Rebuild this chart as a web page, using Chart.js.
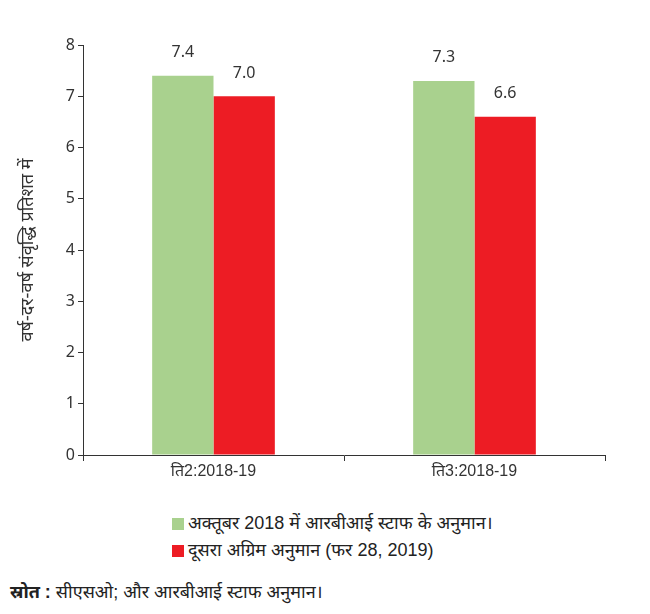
<!DOCTYPE html>
<html>
<head>
<meta charset="utf-8">
<script src="https://cdn.jsdelivr.net/npm/chart.js@4/dist/chart.umd.min.js"></script>
<style>
  body { margin: 0; background: #fff; font-family: "Liberation Sans", "Noto Sans", sans-serif; color: #222; }
  .wrap { position: relative; width: 650px; height: 614px; }
  #myChart { position: absolute; left: 0; top: 0; }
  .legend { position: absolute; left: 172px; top: 510px; font-size: 18px; line-height: 27px; }
  .legend span.box { display: inline-block; width: 12px; height: 12px; margin-right: 4px; vertical-align: -1px; }
  .source { position: absolute; left: 10px; top: 579px; font-size: 18px; color: #222; }
</style>
</head>
<body>
<div class="wrap">
  <canvas id="myChart" width="650" height="490"></canvas>
  <div class="legend" id="legend"></div>
  <div class="source"><b>स्रोत :</b> सीएसओ; और आरबीआई स्टाफ अनुमान।</div>
</div>
<script>
let categories = ['ति2:2018-19', 'ति3:2018-19'];
let staffEstimate = [7.4, 7.3];
let advanceEstimate = [7.0, 6.6];
let seriesNames = ['अक्तूबर 2018 में आरबीआई स्टाफ के अनुमान।', 'दूसरा अग्रिम अनुमान (फर 28, 2019)'];
let yTicks = [0, 1, 2, 3, 4, 5, 6, 7, 8];
let colors = ['#a9d18e', '#ed1c24'];

/*value labels above bars*/
let valueLabels = {
  id: 'valueLabels',
  afterDatasetsDraw(chart) {
    let ctx = chart.ctx;
    ctx.save();
    ctx.font = '16px "Noto Sans", sans-serif';
    ctx.fillStyle = '#333';
    ctx.textAlign = 'center';
    ctx.textBaseline = 'middle';
    chart.data.datasets.forEach((ds, i) => {
      chart.getDatasetMeta(i).data.forEach((bar, j) => {
        ctx.fillText(ds.data[j].toFixed(1), bar.x, bar.y - 23);
      });
    });
    ctx.restore();
  }
};

const ctx = document.getElementById('myChart').getContext('2d');
const myChart = new Chart(ctx, {
  type: 'bar',
  data: {
    labels: categories,
    datasets: [{
      label: seriesNames[0],
      data: staffEstimate,
      backgroundColor: colors[0]
    }, {
      label: seriesNames[1],
      data: advanceEstimate,
      backgroundColor: colors[1]
    }]
  },
  options: {
    responsive: false,
    animation: false,
    layout: { padding: { top: 45, right: 45, left: 0, bottom: 0 } },
    plugins: {
      legend: { display: false },
      tooltip: { enabled: false }
    },
    datasets: {
      bar: { categoryPercentage: 0.47, barPercentage: 1.0 }
    },
    scales: {
      x: {
        afterFit: function(scale) { scale.height = 35; },
        grid: { offset: true, drawOnChartArea: false, drawTicks: true, tickLength: 6, color: '#333' },
        border: { color: '#333', width: 1 },
        ticks: { color: '#333', padding: 1, font: { size: 16, family: '"Liberation Sans", "Noto Sans", sans-serif' } }
      },
      y: {
        min: 0,
        max: 8,
        afterFit: function(scale) { scale.width = 83; },
        afterBuildTicks: function(scale) { scale.ticks = yTicks.map(v => ({ value: v })); },
        grid: { drawOnChartArea: false, drawTicks: true, tickLength: 5, color: '#333' },
        border: { color: '#333', width: 1 },
        ticks: { color: '#333', padding: 3, font: { size: 16, family: '"Noto Sans", sans-serif' } },
        title: {
          display: true,
          text: 'वर्ष-दर-वर्ष संवृद्धि प्रतिशत में',
          color: '#333',
          padding: { top: 17, bottom: 0 },
          font: { size: 18, family: '"Noto Sans", sans-serif' }
        }
      }
    }
  },
  plugins: [valueLabels]
});

/*legend built from the datasets*/
let legend = document.getElementById('legend');
myChart.data.datasets.forEach((ds) => {
  let row = document.createElement('div');
  row.innerHTML = '<span class="box" style="background:' + ds.backgroundColor + '"></span>' + ds.label;
  legend.appendChild(row);
});
</script>
</body>
</html>
